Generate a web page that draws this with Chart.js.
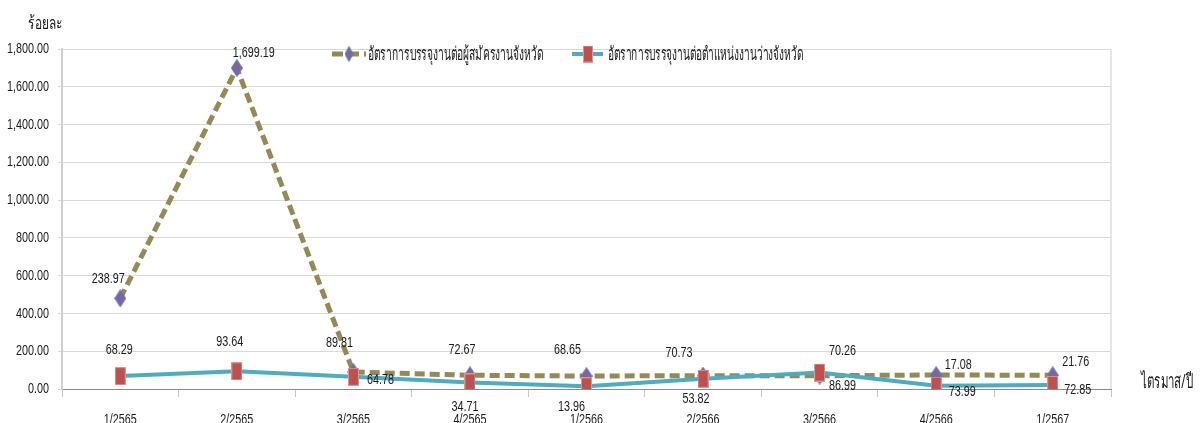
<!DOCTYPE html>
<html><head><meta charset="utf-8">
<script src="https://cdn.jsdelivr.net/npm/chart.js@4"></script>
<style>html,body{margin:0;padding:0;background:#fff;overflow:hidden}#wrap{width:1204px;height:423px;position:relative}canvas{display:block}</style>
</head><body><div id="wrap"><canvas id="c" width="1204" height="423"></canvas></div>
<script>
// ---- data ----
const categories = ['1/2565','2/2565','3/2565','4/2565','1/2566','2/2566','3/2566','4/2566','1/2567'];
const applicantsName = 'อัตราการบรรจุงานต่อผู้สมัครงานจังหวัด';
const vacancyName = 'อัตราการบรรจุงานต่อตำแหน่งงานว่างจังหวัด';
const applicantsRate = [480, 1699.19, 89.81, 72.67, 68.65, 70.73, 70.26, 73.99, 72.85];
const applicantsLabels = ['238.97','1,699.19','89.81','72.67','68.65','70.73','70.26','73.99','72.85'];
const vacancyRate = [68.29, 93.64, 64.78, 34.71, 13.96, 53.82, 86.99, 17.08, 21.76];
const yTickValues = [0,200,400,600,800,1000,1200,1400,1600,1800];
const yAxisTitle = 'ร้อยละ';
const xAxisTitle = 'ไตรมาส/ปี';

// ---- label placement (style) ----
const applicantsLabelOffsets = [[-12,-19],[17,-15],[-14,-29],[-8,-25],[-19,-26],[-24,-23],[23,-25],[26,17],[25,15]];
const vacancyLabelOffsets = [[-1,-26],[-7,-29],[27,3],[-5,24],[-15,20],[-7,20],[23,13],[22,-21],[23,-23]];

const FONT = '15px "Liberation Sans", "Noto Sans", sans-serif';
const SX = 0.72;
const TEXT = '#1a1a1a';

function fmt(v){ return v.toLocaleString('en-US',{minimumFractionDigits:2, maximumFractionDigits:2}); }

function makeDiamond(w,h){
  const c=document.createElement('canvas'); c.width=w; c.height=h;
  const g=c.getContext('2d');
  g.beginPath(); g.moveTo(w/2,0.5); g.lineTo(w-0.5,h/2); g.lineTo(w/2,h-0.5); g.lineTo(0.5,h/2); g.closePath();
  g.fillStyle='#8064A2'; g.fill(); g.strokeStyle='#4F81BD'; g.lineWidth=1; g.stroke();
  return c;
}
function makeRect(w,h){
  const c=document.createElement('canvas'); c.width=w; c.height=h;
  const g=c.getContext('2d');
  g.fillStyle='#C0504D'; g.fillRect(0,0,w,h);
  g.strokeStyle='#D99694'; g.lineWidth=1; g.strokeRect(0.5,0.5,w-1,h-1);
  return c;
}
const diamondImg = makeDiamond(12,18);
const rectImg = makeRect(11,18);
const diamondLegend = makeDiamond(9,16);
const rectLegend = makeRect(10,17);

function ctext(ctx,s,x,y,align,font,color,sx){
  ctx.save(); ctx.font=font; ctx.fillStyle=color; ctx.textBaseline='middle'; ctx.textAlign=align;
  ctx.translate(x,y); ctx.scale(sx,1); ctx.fillText(s,0,0); ctx.restore();
}
// draw left-aligned text condensed to a given width
function ctextW(ctx,s,x,y,font,color,width){
  ctx.save(); ctx.font=font; const w=ctx.measureText(s).width; ctx.restore();
  ctext(ctx,s,x,y,'left',font,color,width/w);
}
const THAI = '"Noto Sans", "Liberation Sans", sans-serif';

const textPlugin = {
  id:'texts',
  afterDraw(chart){
    const ctx=chart.ctx, xs=chart.scales.x, ys=chart.scales.y, ca=chart.chartArea;
    // right border of plot area
    ctx.save(); ctx.strokeStyle='#E6E6E6'; ctx.lineWidth=2;
    ctx.beginPath(); ctx.moveTo(ca.right, ca.top); ctx.lineTo(ca.right, ca.bottom); ctx.stroke(); ctx.restore();
    // y tick labels
    ys.ticks.forEach(t=>{ ctext(ctx, fmt(t.value), ca.left-13, ys.getPixelForValue(t.value), 'right', FONT, TEXT, SX); });
    // x tick labels
    categories.forEach((c,i)=>{ ctext(ctx, c, xs.getPixelForValue(i), 420, 'center', FONT, TEXT, SX); });
    // axis titles
    ctextW(ctx, yAxisTitle, 28, 24, '18px '+THAI, TEXT, 35);
    ctextW(ctx, xAxisTitle, 1141, 382, '20px '+THAI, TEXT, 52);
    // data labels
    const m0=chart.getDatasetMeta(0), m1=chart.getDatasetMeta(1);
    m0.data.forEach((p,i)=>{ const o=applicantsLabelOffsets[i]; ctext(ctx, applicantsLabels[i], p.x+o[0], p.y+o[1], 'center', FONT, TEXT, SX); });
    m1.data.forEach((p,i)=>{ const o=vacancyLabelOffsets[i]; ctext(ctx, fmt(vacancyRate[i]), p.x+o[0], p.y+o[1], 'center', FONT, TEXT, SX); });
    // legend
    const ly=54;
    const d0=chart.data.datasets[0], d1=chart.data.datasets[1];
    ctx.save();
    ctx.strokeStyle=d0.borderColor; ctx.lineWidth=5; ctx.setLineDash([11,5]);
    ctx.beginPath(); ctx.moveTo(332,ly); ctx.lineTo(366,ly); ctx.stroke();
    ctx.setLineDash([]);
    ctx.drawImage(diamondLegend, 349-4.5, ly-8);
    ctx.strokeStyle=d1.borderColor; ctx.lineWidth=4;
    ctx.beginPath(); ctx.moveTo(572,ly); ctx.lineTo(603,ly); ctx.stroke();
    ctx.drawImage(rectLegend, 588-5, ly-8.5);
    ctx.restore();
    ctextW(ctx, d0.label, 368, ly+1, '19px '+THAI, TEXT, 175);
    ctextW(ctx, d1.label, 608, ly+1, '19px '+THAI, TEXT, 195);
  }
};

new Chart(document.getElementById('c').getContext('2d'), {
  type:'line',
  data:{ labels:categories, datasets:[
    { label:applicantsName, data:applicantsRate, borderColor:'#948A54', borderWidth:5, borderDash:[10,5],
      pointStyle:diamondImg, pointRadius:8, fill:false, tension:0, order:1 },
    { label:vacancyName, data:vacancyRate, borderColor:'#4BACC6', borderWidth:4,
      pointStyle:rectImg, pointRadius:8, fill:false, tension:0, order:0 }
  ]},
  options:{
    responsive:false, animation:false, events:[],
    layout:{ padding:{ left:0, right:93, top:49, bottom:0 } },
    plugins:{ legend:{display:false}, tooltip:{enabled:false} },
    scales:{
      x:{ offset:true,
          grid:{ offset:true, drawOnChartArea:false, drawTicks:true, tickLength:8, color:'#C8C8C8' },
          border:{ color:'#8C8C8C', width:1 },
          ticks:{ display:false },
          afterFit(s){ s.height=34; } },
      y:{ min:0, max:1800,
          afterBuildTicks(s){ s.ticks = yTickValues.map(v=>({value:v})); },
          grid:{ color:'#D9D9D9', tickLength:4, lineWidth:1 },
          border:{ color:'#D0D0D0', width:2 },
          ticks:{ display:false },
          afterFit(s){ s.width=62; } }
    }
  },
  plugins:[textPlugin]
});
</script></body></html>
